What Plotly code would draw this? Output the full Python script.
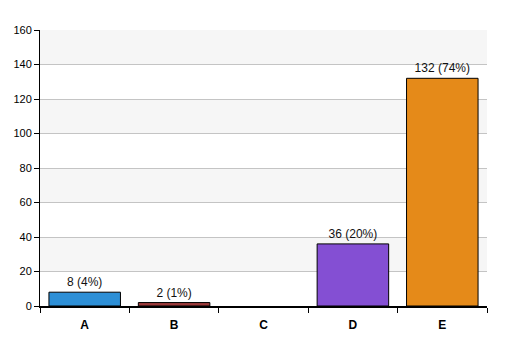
import plotly.graph_objects as go

categories = ["A", "B", "C", "D", "E"]
counts = [8, 2, 0, 36, 132]
colors = ["#2d8fd6", "#9c3a3a", "#888888", "#844fd3", "#e58a19"]
y_ticks = [0, 20, 40, 60, 80, 100, 120, 140, 160]

total = sum(counts)
labels = [f"{c} ({round(100 * c / total)}%)" if c > 0 else "" for c in counts]
outline_widths = [1 if c > 0 else 0 for c in counts]

fig = go.Figure(
    go.Bar(
        x=categories,
        y=counts,
        text=labels,
        textposition="outside",
        cliponaxis=False,
        textfont=dict(family="Arial, Liberation Sans, sans-serif", size=12, color="#111"),
        marker=dict(color=colors, line=dict(color="#000", width=outline_widths)),
        width=0.8,
    )
)

# alternating background bands
shapes = []
for i in range(len(y_ticks) - 1):
    if i % 2 == 1:
        shapes.append(dict(type="rect", xref="paper", yref="y", x0=0, x1=1,
                           y0=y_ticks[i], y1=y_ticks[i + 1],
                           fillcolor="#f6f6f6", line=dict(width=0), layer="below"))

fig.update_layout(
    width=507, height=356,
    margin=dict(l=32, r=28, t=22, b=58, autoexpand=False),
    paper_bgcolor="white", plot_bgcolor="white",
    shapes=shapes,
    showlegend=False,
    font=dict(family="Arial, Liberation Sans, sans-serif", color="#111"),
    xaxis=dict(
        showline=True, linecolor="#000", linewidth=2,
        ticks="outside", tickson="boundaries", ticklen=5, tickcolor="#000",
        tickfont=dict(size=12, family="Arial, Liberation Sans, sans-serif", weight="bold", color="#000"),
        ticklabelstandoff=7,
        showgrid=False, automargin=False,
    ),
    yaxis=dict(
        range=[0, 160], tickvals=y_ticks,
        showline=True, linecolor="#000", linewidth=1,
        ticks="outside", ticklen=5, tickcolor="#000",
        gridcolor="#c4c4c4", gridwidth=1,
        tickfont=dict(size=11, color="#000"),
        zeroline=False, automargin=False,
    ),
)

fig.write_html("out.html")
